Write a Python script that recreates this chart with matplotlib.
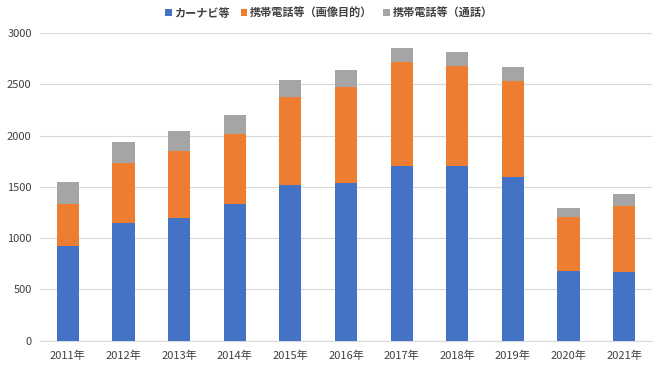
import matplotlib
matplotlib.use("Agg")
import matplotlib.pyplot as plt
import numpy as np

plt.rcParams['font.family'] = ['Noto Sans CJK JP', 'DejaVu Sans']

years = ["2011年", "2012年", "2013年", "2014年", "2015年", "2016年",
         "2017年", "2018年", "2019年", "2020年", "2021年"]
carnavi = [920, 1150, 1195, 1330, 1520, 1540, 1705, 1700, 1600, 675, 665]
phone_image = [415, 580, 650, 690, 855, 935, 1010, 975, 935, 530, 650]
phone_call = [215, 210, 195, 180, 170, 160, 140, 135, 135, 90, 115]
series_names = ["カーナビ等", "携帯電話等（画像目的）", "携帯電話等（通話）"]
colors = ["#4472C4", "#ED7D31", "#A5A5A5"]

fig = plt.figure(figsize=(6.6, 3.71), dpi=100)
ax = fig.add_axes([40/660, 1-340.7/371, 612/660, 307.7/371])

x = np.arange(len(years))
bottom = np.zeros(len(years))
handles = []
for vals, name, c in zip([carnavi, phone_image, phone_call], series_names, colors):
    h = ax.bar(x, vals, width=0.4, bottom=bottom, color=c, label=name, zorder=3)
    handles.append(h)
    bottom += np.array(vals)

ax.set_xlim(-0.5, len(years) - 0.5)
ax.set_ylim(0, 3000)
ax.set_yticks(range(0, 3001, 500))
ax.set_xticks(x)
ax.set_xticklabels(years)
ax.grid(axis='y', color='#D9D9D9', linewidth=0.8, zorder=0)
for s in ['top', 'right', 'left']:
    ax.spines[s].set_visible(False)
ax.spines['bottom'].set_color('#D9D9D9')
ax.tick_params(axis='both', length=0, labelsize=8, colors='#404040')
ax.tick_params(axis='y', pad=6)
ax.tick_params(axis='x', pad=7)

fig.legend(handles=handles, labels=series_names, loc='center', bbox_to_anchor=(329/660, 1-13/371),
           ncol=3, frameon=False, prop={'size': 8, 'weight': 'bold'},
           handlelength=0.55, handleheight=0.55,
           columnspacing=1.0, handletextpad=0.25, labelcolor='#404040')

fig.savefig("out.png", dpi=100)
